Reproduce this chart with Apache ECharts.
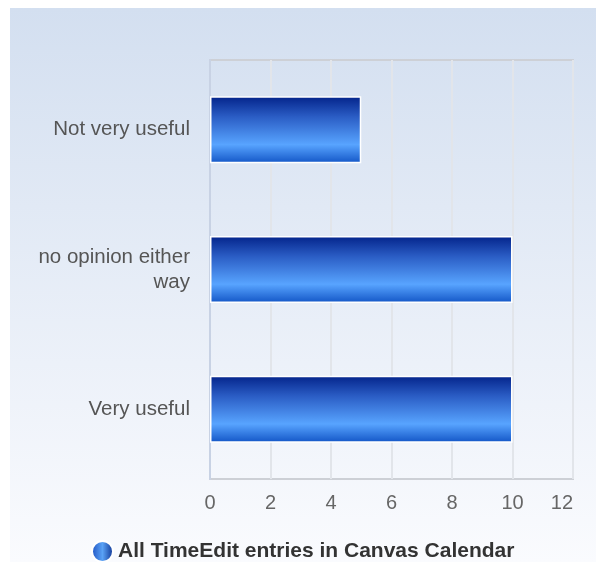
<!DOCTYPE html>
<html><head><meta charset="utf-8">
<script src="https://cdn.jsdelivr.net/npm/echarts@6/dist/echarts.min.js"></script>
<style>html,body{margin:0;padding:0;background:#fff;overflow:hidden;}#c{width:596px;height:562px;}</style>
</head><body><div id="c"></div>
<script>
var categories = ['Very useful', 'no opinion either\nway', 'Not very useful'];
var values = [10, 10, 5];
var seriesName = 'All TimeEdit entries in Canvas Calendar';
var xTicks = [0, 2, 4, 6, 8, 10, 12];

var chart = echarts.init(document.getElementById('c'));
var barGrad = new echarts.graphic.LinearGradient(0, 0, 0, 1, [
  {offset: 0, color: '#03238a'},
  {offset: 0.3, color: '#2a5cc4'},
  {offset: 0.72, color: '#58a4ff'},
  {offset: 1, color: '#1255c6'}
]);
var iconGrad = new echarts.graphic.LinearGradient(0, 0, 1, 0, [
  {offset: 0, color: '#1b4fc0'},
  {offset: 0.5, color: '#5aa2f5'},
  {offset: 1, color: '#0b2e8e'}
]);
chart.setOption({
  animation: false,
  textStyle: {fontFamily: 'Liberation Sans, Arial, sans-serif'},
  graphic: [{
    type: 'rect', z: -10, silent: true,
    shape: {x: 10, y: 8, width: 586, height: 554},
    style: {fill: new echarts.graphic.LinearGradient(0, 0, 0, 1, [
      {offset: 0, color: '#d3dff0'}, {offset: 1, color: '#fafbfe'}])}
  }],
  grid: {left: 210, right: 23, top: 60, bottom: 83, show: true, borderColor: '#cdd0d6', borderWidth: 2, backgroundColor: 'transparent'},
  legend: {
    top: 535, left: 86, icon: 'circle', itemWidth: 21, itemHeight: 21, itemGap: 6,
    data: [{name: seriesName, itemStyle: {color: iconGrad}}],
    textStyle: {fontSize: 21, fontWeight: 'bold', color: '#333', fontFamily: 'Liberation Sans, Arial, sans-serif'}
  },
  xAxis: {
    type: 'value', min: xTicks[0], max: xTicks[xTicks.length - 1], interval: 2,
    axisLine: {show: false}, axisTick: {show: false},
    axisLabel: {fontSize: 20, color: '#666', margin: 14, alignMaxLabel: 'right'},
    splitLine: {lineStyle: {color: '#e2e5ea', width: 2}}
  },
  yAxis: {
    type: 'category', data: categories,
    axisLine: {show: true, lineStyle: {color: '#c8d2e4', width: 2}}, axisTick: {show: false},
    axisLabel: {fontSize: 20.5, color: '#555', margin: 20, lineHeight: 25, align: 'right'}
  },
  series: [{
    name: seriesName, type: 'bar', data: values, barWidth: 67,
    itemStyle: {color: barGrad, borderColor: '#ffffff', borderWidth: 1.5}
  }]
});
</script></body></html>
